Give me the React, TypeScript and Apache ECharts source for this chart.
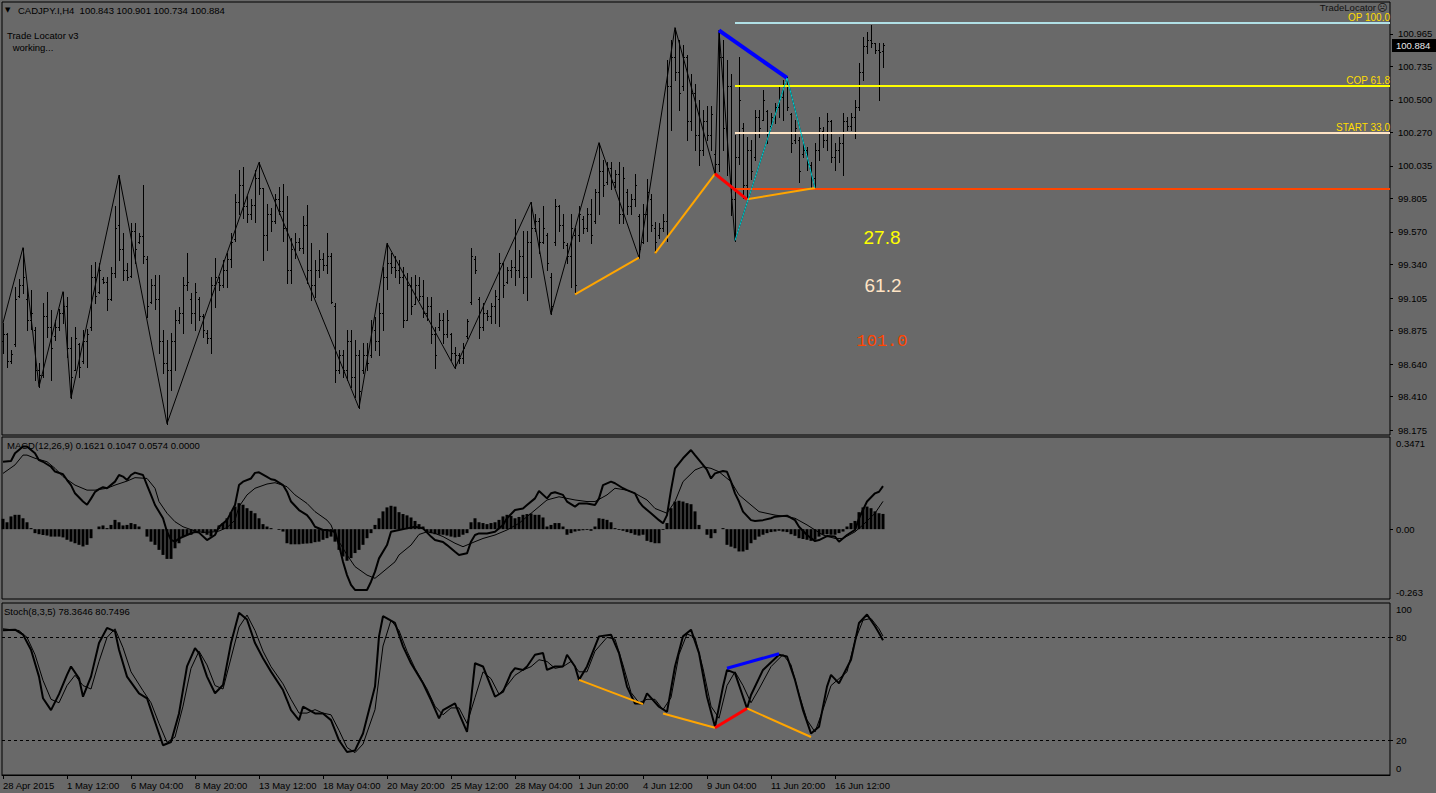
import React, { useEffect, useRef } from 'react';
import * as echarts from 'echarts';

// ---------- DATA ----------
// H4 bars, [open, high, low, close], bar index = position in array
const ohlc: number[][] = [
  [98.80, 98.93, 98.72, 98.85], [98.85, 98.86, 98.62, 98.66], [98.66, 98.74, 98.65, 98.71], [98.78, 99.18, 98.77, 99.10],
  [99.12, 99.24, 99.11, 99.20], [99.20, 99.46, 99.14, 99.25], [99.10, 99.18, 98.88, 98.95], [98.95, 99.16, 98.89, 99.00],
  [98.88, 98.90, 98.53, 98.60], [98.60, 98.65, 98.48, 98.56], [98.56, 99.07, 98.55, 98.98], [98.98, 99.15, 98.83, 98.90],
  [98.90, 99.02, 98.53, 98.75], [98.84, 98.95, 98.81, 98.90], [98.90, 99.03, 98.88, 99.00], [99.00, 99.15, 98.93, 99.05],
  [99.05, 99.11, 98.69, 98.75], [98.75, 98.83, 98.40, 98.55], [98.60, 98.90, 98.60, 98.82], [98.78, 98.79, 98.55, 98.62],
  [98.66, 98.88, 98.65, 98.80], [98.80, 98.89, 98.62, 98.85], [98.90, 99.34, 98.88, 99.25], [99.25, 99.36, 99.07, 99.12],
  [99.15, 99.35, 99.14, 99.30], [99.24, 99.25, 99.21, 99.22], [99.22, 99.25, 99.02, 99.10], [99.10, 99.32, 99.09, 99.28],
  [99.28, 99.75, 99.25, 99.60], [99.62, 99.97, 99.37, 99.45], [99.45, 99.56, 99.23, 99.30], [99.30, 99.35, 99.23, 99.25],
  [99.26, 99.63, 99.25, 99.58], [99.58, 99.63, 99.35, 99.45], [99.50, 99.56, 99.49, 99.54], [99.54, 99.90, 99.35, 99.40],
  [99.38, 99.40, 98.97, 99.05], [99.08, 99.24, 99.07, 99.20], [99.20, 99.27, 99.03, 99.10], [99.10, 99.27, 98.72, 98.80],
  [98.80, 98.88, 98.58, 98.65], [98.65, 98.81, 98.22, 98.60], [98.60, 98.86, 98.46, 98.80], [98.80, 99.02, 98.60, 98.95],
  [98.95, 99.04, 98.93, 99.00], [99.00, 99.25, 98.86, 99.20], [99.20, 99.42, 99.16, 99.22], [99.10, 99.14, 98.93, 99.00],
  [99.00, 99.21, 98.88, 99.15], [99.10, 99.11, 98.95, 98.98], [98.98, 98.99, 98.83, 98.88], [98.86, 98.88, 98.79, 98.82],
  [98.82, 99.25, 98.72, 99.20], [99.20, 99.39, 99.04, 99.25], [99.22, 99.25, 99.16, 99.20], [99.20, 99.37, 99.18, 99.30],
  [99.30, 99.42, 99.18, 99.38], [99.38, 99.56, 99.32, 99.50], [99.52, 99.84, 99.51, 99.78], [99.78, 100.01, 99.70, 99.90],
  [99.90, 100.03, 99.67, 99.75], [99.75, 99.82, 99.64, 99.70], [99.70, 99.80, 99.66, 99.76], [99.76, 100.01, 99.64, 99.95],
  [99.95, 100.06, 99.84, 99.88], [99.88, 99.88, 99.37, 99.55], [99.55, 99.77, 99.44, 99.70], [99.70, 99.74, 99.58, 99.65],
  [99.65, 99.84, 99.63, 99.80], [99.80, 99.89, 99.70, 99.72], [99.72, 99.91, 99.51, 99.60], [99.60, 99.82, 99.21, 99.30],
  [99.30, 99.53, 99.21, 99.45], [99.45, 99.56, 99.39, 99.50], [99.50, 99.53, 99.44, 99.46], [99.46, 99.68, 99.42, 99.62],
  [99.62, 99.76, 99.21, 99.30], [99.30, 99.49, 99.09, 99.20], [99.20, 99.37, 99.11, 99.30], [99.30, 99.44, 99.25, 99.38],
  [99.38, 99.42, 99.30, 99.34], [99.34, 99.56, 99.28, 99.40], [99.40, 99.42, 99.07, 99.08], [99.05, 99.07, 98.51, 98.60],
  [98.60, 98.74, 98.58, 98.70], [98.70, 98.74, 98.55, 98.60], [98.60, 98.88, 98.53, 98.80], [98.80, 98.88, 98.48, 98.55],
  [98.55, 98.81, 98.41, 98.70], [98.70, 98.74, 98.33, 98.45], [98.60, 98.79, 98.58, 98.70], [98.70, 98.79, 98.60, 98.65],
  [98.70, 98.95, 98.69, 98.90], [98.88, 98.97, 98.74, 98.80], [98.80, 99.07, 98.70, 99.00], [99.00, 99.32, 98.88, 99.25],
  [99.25, 99.49, 99.17, 99.35], [99.35, 99.42, 99.28, 99.32], [99.32, 99.40, 99.25, 99.30], [99.30, 99.37, 99.21, 99.25],
  [99.25, 99.32, 98.90, 98.95], [98.95, 99.28, 98.95, 99.20], [99.20, 99.25, 98.99, 99.05], [99.06, 99.27, 99.06, 99.20],
  [99.20, 99.25, 99.09, 99.12], [99.12, 99.23, 98.97, 99.00], [99.00, 99.11, 98.95, 99.05], [99.05, 99.11, 98.79, 98.85],
  [98.85, 98.90, 98.61, 98.70], [98.90, 99.00, 98.88, 98.95], [98.95, 99.00, 98.79, 98.85], [98.85, 99.02, 98.83, 98.95],
  [98.85, 98.86, 98.67, 98.72], [98.72, 98.76, 98.61, 98.70], [98.70, 98.72, 98.65, 98.68], [98.68, 98.79, 98.65, 98.75],
  [98.84, 98.96, 98.82, 98.94], [99.08, 99.46, 99.06, 99.40], [99.38, 99.40, 99.28, 99.30], [99.10, 99.11, 98.82, 98.90],
  [98.90, 99.07, 98.88, 99.00], [99.00, 99.02, 98.95, 98.98], [98.98, 99.07, 98.93, 99.05], [99.05, 99.16, 98.93, 99.12],
  [99.10, 99.42, 98.91, 99.35], [99.35, 99.35, 99.11, 99.20], [99.22, 99.32, 99.21, 99.30], [99.30, 99.37, 99.25, 99.32],
  [99.32, 99.66, 99.20, 99.30], [99.30, 99.44, 99.25, 99.40], [99.40, 99.58, 99.14, 99.25], [99.25, 99.58, 99.09, 99.50],
  [99.50, 99.78, 99.25, 99.60], [99.60, 99.70, 99.58, 99.65], [99.65, 99.67, 99.42, 99.50], [99.50, 99.75, 99.49, 99.60],
  [99.55, 99.56, 99.30, 99.35], [99.25, 99.28, 98.99, 99.05], [99.50, 99.80, 99.48, 99.75], [99.75, 99.76, 99.58, 99.62],
  [99.62, 99.70, 99.46, 99.50], [99.48, 99.49, 99.35, 99.40], [99.40, 99.70, 99.18, 99.60], [99.55, 99.60, 99.13, 99.20],
  [99.55, 99.75, 99.51, 99.70], [99.66, 99.68, 99.56, 99.60], [99.60, 99.74, 99.58, 99.70], [99.70, 99.80, 99.49, 99.55],
  [99.65, 99.87, 99.63, 99.85], [99.85, 100.20, 99.70, 100.00], [100.00, 100.08, 99.82, 99.90], [99.92, 100.06, 99.91, 100.02],
  [100.02, 100.06, 99.87, 99.92], [99.92, 100.01, 99.89, 99.98], [99.98, 100.06, 99.63, 99.70], [99.70, 100.03, 99.63, 99.95],
  [99.85, 99.87, 99.70, 99.75], [99.75, 99.84, 99.70, 99.80], [99.80, 99.98, 99.75, 99.90], [99.68, 99.70, 99.39, 99.45],
  [99.50, 99.77, 99.49, 99.70], [99.70, 99.94, 99.51, 99.85], [99.80, 99.84, 99.58, 99.62], [99.60, 99.64, 99.42, 99.50],
  [99.55, 99.63, 99.53, 99.60], [99.60, 99.70, 99.58, 99.65], [99.65, 100.78, 99.51, 100.60], [100.60, 100.92, 100.29, 100.80],
  [100.80, 101.01, 100.64, 100.70], [100.70, 100.92, 100.43, 100.55], [100.60, 100.89, 100.57, 100.80], [100.80, 100.82, 100.22, 100.35],
  [100.35, 100.68, 100.29, 100.55], [100.55, 100.61, 100.15, 100.25], [100.25, 100.50, 100.04, 100.15], [100.15, 100.43, 100.11, 100.35],
  [100.35, 100.46, 100.22, 100.25], [100.25, 100.46, 100.15, 100.40], [100.12, 100.15, 99.98, 100.05], [100.05, 100.99, 100.00, 100.80],
  [100.80, 100.92, 100.15, 100.30], [100.30, 100.78, 99.97, 100.60], [100.60, 100.68, 99.69, 99.80], [99.80, 100.25, 99.51, 100.10],
  [100.10, 100.80, 100.05, 100.50], [100.30, 100.34, 99.81, 99.90], [99.90, 100.24, 99.80, 100.15], [100.15, 100.22, 99.94, 100.00],
  [100.10, 100.43, 100.08, 100.38], [100.38, 100.43, 100.24, 100.30], [100.36, 100.57, 100.36, 100.50], [100.42, 100.43, 100.20, 100.25],
  [100.32, 100.41, 100.31, 100.38], [100.38, 100.48, 100.34, 100.45], [100.45, 100.59, 100.38, 100.52], [100.52, 100.64, 100.36, 100.60],
  [100.60, 100.66, 100.43, 100.45], [100.40, 100.41, 100.13, 100.20], [100.22, 100.36, 100.20, 100.30], [100.22, 100.24, 99.92, 100.00],
  [100.12, 100.20, 100.10, 100.15], [100.15, 100.17, 100.01, 100.05], [100.04, 100.06, 99.89, 99.95], [99.95, 100.20, 99.88, 100.15],
  [100.15, 100.38, 100.08, 100.30], [100.28, 100.31, 100.17, 100.22], [100.22, 100.41, 100.15, 100.35], [100.35, 100.36, 100.06, 100.10],
  [100.10, 100.20, 100.01, 100.15], [100.15, 100.24, 100.06, 100.20], [100.20, 100.41, 99.97, 100.35], [100.35, 100.38, 100.29, 100.32],
  [100.32, 100.41, 100.29, 100.38], [100.38, 100.50, 100.23, 100.45], [100.45, 100.76, 100.43, 100.70], [100.70, 100.94, 100.64, 100.88],
  [100.88, 100.98, 100.83, 100.92], [100.92, 101.03, 100.87, 100.90], [100.90, 100.90, 100.83, 100.85], [100.85, 100.90, 100.50, 100.84],
  [100.843, 100.901, 100.734, 100.884],
];

// ZigZag swing points [bar, price]
const zigzag: number[][] = [
  [0, 98.93], [5, 99.46], [9, 98.48], [15, 99.15], [17, 98.40], [29, 99.97], [41, 98.22], [64, 100.06],
  [89, 98.33], [96, 99.49], [113, 98.61], [132, 99.78], [137, 98.99], [149, 100.20], [159, 99.39],
  [168, 101.01], [178, 99.98], [179, 100.99], [183, 99.51], [196, 100.655], [203, 99.88],
];

// Trade Locator pattern legs (price panel)
const orangeLegs: number[][][] = [
  [[143, 99.13], [159, 99.39]],
  [[163, 99.42], [178, 99.98]],
  [[186, 99.80], [203, 99.88]],
];
const redLeg: number[][] = [[178, 99.98], [186, 99.80]];
const blueLeg: number[][] = [[179, 100.99], [196, 100.655]];
const cyanLeg: number[][] = [[183, 99.51], [196, 100.655], [203, 99.88]];

// Trade Locator levels
const levelStart = 183;
const levelNames = ['OP 100.0', 'COP 61.8', 'START 33.0', ''];
const levelPrices = [101.043, 100.599, 100.268, 99.873];
const levelColors = ['#b0e0e6', '#ffff00', '#ffe4c4', '#ff4500'];
const ratioTexts = ['27.8', '61.2', '101.0'];

// MACD(12,26,9): histogram per bar, lines as [bar, value]
const macdHist: number[] = [
  0.039, 0.026, 0.048, 0.054, 0.054, 0.041, 0.026, 0.004,
  -0.015, -0.019, -0.022, -0.024, -0.028, -0.028, -0.028, -0.031, -0.040, -0.047, -0.053, -0.059, -0.065, -0.059, -0.034,
  0.000, 0.010, 0.014, 0.004, 0.016, 0.035, 0.026, 0.014, 0.016, 0.023, 0.019, 0.010, 0.000,
  -0.028, -0.047, -0.059, -0.078, -0.097, -0.112, -0.112, -0.072, -0.053, -0.028,
  -0.021, -0.021, -0.015, -0.009, -0.015, -0.021, -0.028, -0.009,
  0.014, 0.023, 0.041, 0.064, 0.085, 0.098, 0.092, 0.079, 0.069, 0.060, 0.041, 0.019,
  0.010, 0.004, 0.000, -0.003, -0.009,
  -0.053, -0.057, -0.057, -0.057, -0.055, -0.054, -0.053, -0.049, -0.047, -0.040, -0.034, -0.028,
  -0.047, -0.078, -0.103, -0.119, -0.109, -0.090, -0.078, -0.059, -0.034, -0.015,
  0.016, 0.041, 0.067, 0.082, 0.088, 0.085, 0.064, 0.057, 0.052, 0.044, 0.031, 0.019, 0.010,
  -0.011, -0.015, -0.019, -0.021,
  -0.021, -0.024, -0.028, -0.031, -0.029, -0.021, -0.015,
  0.026, 0.041, 0.026, 0.023, 0.019, 0.023, 0.026, 0.035,
  0.048, 0.054, 0.050, 0.041, 0.046, 0.054, 0.057, 0.059, 0.054,
  0.054, 0.044, 0.010, 0.016, 0.023, 0.023, 0.010,
  -0.021, -0.015, -0.009, -0.006, -0.004, -0.003, -0.006,
  0.010, 0.041, 0.039, 0.035, 0.026,
  0.004, -0.003, -0.006, -0.011, -0.015, -0.021, -0.024, -0.021,
  -0.044, -0.049, -0.053, -0.053, -0.003,
  0.023, 0.079, 0.104, 0.107, 0.104, 0.098, 0.094, 0.067, 0.016, 0.000,
  -0.021, -0.034, -0.015, 0.000, 0.004,
  -0.059, -0.066, -0.072, -0.084, -0.084, -0.078,
  -0.053, -0.040, -0.028, -0.021,
  -0.015, -0.011, -0.009, -0.006, -0.009,
  -0.011, -0.019, -0.025, -0.034, -0.037, -0.040,
  -0.044, -0.040, -0.028, -0.021, -0.019,
  -0.021, -0.021, -0.015,
  -0.009, 0.010, 0.023,
  0.031, 0.064, 0.082,
  0.085, 0.079, 0.067, 0.060, 0.0574,
];

const macdMain: number[][] = [
  [0, 0.254], [2, 0.257], [3, 0.286], [5, 0.311], [6, 0.311], [8, 0.286], [9, 0.260], [10, 0.254], [12, 0.235], [13, 0.217],
  [15, 0.207], [16, 0.185], [17, 0.166], [18, 0.135], [20, 0.104], [21, 0.092], [22, 0.115], [23, 0.140], [24, 0.151], [25, 0.158],
  [26, 0.154], [28, 0.179], [29, 0.204], [30, 0.198], [31, 0.185], [32, 0.204], [33, 0.213], [35, 0.204], [36, 0.166], [37, 0.129],
  [38, 0.091], [40, 0.041], [41, -0.010], [42, -0.040], [43, -0.047], [44, -0.035], [46, -0.022], [48, -0.010], [49, -0.013], [51, -0.041],
  [53, -0.022], [54, 0.009], [56, 0.034], [58, 0.091], [59, 0.166], [60, 0.179], [62, 0.191], [63, 0.212], [64, 0.214], [66, 0.197],
  [67, 0.188], [68, 0.185], [70, 0.166], [71, 0.141], [72, 0.104], [74, 0.072], [76, 0.053], [77, 0.034], [78, 0.009], [80, -0.003],
  [81, -0.003], [83, -0.010], [84, -0.060], [85, -0.123], [86, -0.173], [87, -0.210], [88, -0.229], [91, -0.229], [92, -0.198], [93, -0.160],
  [94, -0.110], [96, -0.060], [97, -0.010], [99, -0.003], [101, 0.003], [103, 0.009], [105, 0.003], [107, -0.028], [108, -0.041], [110, -0.048],
  [111, -0.060], [113, -0.085], [114, -0.097], [116, -0.091], [117, -0.047], [118, -0.022], [119, -0.016], [121, -0.016], [123, -0.010], [125, 0.016],
  [126, 0.041], [128, 0.072], [130, 0.078], [131, 0.091], [133, 0.116], [134, 0.144], [136, 0.116], [137, 0.135], [138, 0.139], [140, 0.129],
  [141, 0.104], [143, 0.085], [144, 0.097], [146, 0.097], [148, 0.091], [149, 0.116], [150, 0.166], [152, 0.179], [153, 0.173], [155, 0.154],
  [156, 0.147], [158, 0.135], [159, 0.104], [160, 0.085], [162, 0.060], [164, 0.034], [165, 0.022], [166, 0.053], [167, 0.147], [168, 0.229],
  [170, 0.267], [172, 0.298], [173, 0.279], [175, 0.242], [176, 0.223], [177, 0.191], [178, 0.210], [180, 0.219], [181, 0.216], [182, 0.179],
  [183, 0.135], [184, 0.104], [185, 0.066], [187, 0.034], [188, 0.031], [190, 0.034], [192, 0.041], [193, 0.047], [196, 0.051], [198, 0.034],
  [199, 0.009], [201, -0.022], [203, -0.045], [204, -0.041], [206, -0.026], [208, -0.028], [209, -0.047], [211, -0.022], [213, -0.003], [214, 0.041],
  [216, 0.104], [218, 0.135], [219, 0.141], [220, 0.1621],
];

const macdSignal: number[][] = [
  [0, 0.210], [3, 0.242], [5, 0.279], [6, 0.279], [8, 0.267], [11, 0.254], [13, 0.229], [15, 0.198], [18, 0.166], [21, 0.147],
  [23, 0.147], [26, 0.154], [28, 0.166], [31, 0.181], [33, 0.194], [36, 0.191], [38, 0.154], [39, 0.104], [41, 0.060], [43, 0.028],
  [45, 0.009], [48, -0.007], [50, -0.012], [53, -0.010], [54, -0.007], [56, 0.006], [58, 0.034], [59, 0.085], [61, 0.129], [63, 0.154],
  [66, 0.170], [68, 0.175], [71, 0.160], [73, 0.129], [76, 0.097], [78, 0.066], [81, 0.034], [82, 0.016], [83, -0.022], [86, -0.097],
  [88, -0.141], [91, -0.173], [93, -0.185], [94, -0.173], [96, -0.148], [98, -0.123], [99, -0.097], [102, -0.060], [104, -0.020], [106, -0.010],
  [108, -0.016], [110, -0.028], [113, -0.053], [115, -0.066], [118, -0.047], [120, -0.035], [123, -0.022], [126, -0.003], [129, 0.022], [133, 0.072],
  [136, 0.110], [139, 0.122], [143, 0.110], [146, 0.104], [148, 0.104], [151, 0.129], [153, 0.154], [156, 0.147], [158, 0.135], [161, 0.110],
  [163, 0.078], [166, 0.060], [168, 0.104], [170, 0.179], [173, 0.223], [175, 0.235], [177, 0.229], [179, 0.216], [182, 0.179], [184, 0.129],
  [187, 0.091], [189, 0.066], [193, 0.053], [196, 0.047], [198, 0.041], [201, 0.016], [203, -0.003], [205, -0.022], [208, -0.035], [210, -0.035],
  [213, -0.010], [215, 0.016], [218, 0.060], [220, 0.1047],
];

// Stochastic(8,3,5): [bar, value]
const stochMain: number[][] = [
  [0, 84.1], [3, 84.5], [5, 81.6], [7, 72.8], [9, 57.2], [10, 44.6], [12, 37.7], [14, 47], [16, 58.2], [17, 63.1],
  [19, 56.2], [20, 45.5], [22, 57.2], [24, 76.7], [26, 85.5], [28, 83.5], [29, 72.8], [31, 57.2], [34, 47.5], [36, 44.6],
  [37, 37.7], [39, 24.1], [40, 17.3], [42, 19.2], [44, 35.8], [46, 63.1], [48, 73.8], [49, 70.9], [51, 57.2], [53, 47.5],
  [55, 52.3], [57, 76.7], [59, 94.3], [61, 90.4], [63, 76.7], [65, 67.9], [67, 60.1], [70, 49.4], [71, 43.6], [72, 37.7],
  [74, 31.9], [75, 39.7], [78, 35.8], [80, 35.8], [82, 31.9], [84, 20.2], [86, 13.4], [88, 14.3], [90, 24.1], [93, 51.4],
  [94, 80.6], [95, 92.3], [98, 88.4], [100, 74.8], [102, 65.0], [105, 53.3], [107, 43.6], [109, 32.9], [110, 37.7], [113, 41.6],
  [114, 35.8], [116, 25.1], [117, 43.6], [118, 65.0], [120, 63.1], [123, 45.5], [125, 48.4], [127, 59.2], [128, 62.1], [130, 61.1],
  [131, 63.1], [133, 69.9], [135, 70.9], [136, 61.1], [138, 63.1], [140, 63.1], [141, 69.9], [143, 63.1], [144, 55.3], [146, 63.1],
  [149, 80.6], [152, 81.6], [154, 70.9], [156, 51.4], [158, 41.6], [160, 41.6], [161, 47.5], [164, 39.7], [166, 36.7], [168, 63.1],
  [170, 80.6], [172, 84.5], [174, 70.9], [176, 45.5], [178, 28.0], [180, 51.4], [181, 61.1], [183, 59.2], [185, 45.5], [186, 38.7],
  [187, 46.5], [190, 61.1], [194, 69.9], [196, 68.9], [198, 55.3], [200, 37.7], [202, 24.1], [204, 28.0], [206, 51.4], [207, 58.2],
  [209, 53.3], [212, 67.0], [214, 88.4], [216, 93.3], [218, 86.5], [219, 82.6], [220, 78.3646],
];

const stochSignal: number[][] = [
  [0, 85], [4, 84], [6, 80], [8, 70], [10, 55], [12, 44], [14, 42], [16, 52], [18, 58], [20, 52],
  [22, 50], [24, 66], [26, 80], [28, 85], [30, 74], [32, 60], [35, 49], [37, 42], [39, 30], [41, 19],
  [43, 22], [45, 40], [47, 62], [49, 72], [51, 64], [53, 52], [55, 50], [57, 68], [59, 86], [61, 93],
  [63, 84], [65, 72], [67, 63], [70, 53], [72, 44], [74, 36], [76, 36], [78, 38], [80, 36], [82, 35],
  [84, 26], [86, 16], [88, 13], [90, 18], [93, 38], [95, 75], [97, 90], [99, 84], [101, 72], [103, 62],
  [106, 50], [108, 40], [110, 35], [112, 39], [114, 39], [116, 30], [118, 45], [120, 60], [122, 56], [124, 47],
  [126, 52], [128, 58], [130, 61], [132, 63], [134, 67], [136, 66], [138, 62], [140, 63], [142, 66], [144, 60],
  [146, 60], [148, 72], [151, 80], [153, 79], [155, 64], [157, 48], [159, 42], [161, 44], [163, 44], [165, 38],
  [167, 45], [169, 70], [171, 82], [173, 80], [175, 62], [177, 40], [179, 33], [181, 52], [183, 60], [185, 52],
  [187, 42], [189, 50], [192, 63], [195, 70], [197, 64], [199, 47], [201, 32], [203, 25], [205, 38], [207, 52],
  [209, 56], [211, 60], [213, 78], [215, 90], [217, 91], [219, 85], [220, 80.7496],
];

const stochOrangeLegs: number[][][] = [
  [[144, 55.3], [160, 41.2]],
  [[165, 35.8], [178, 27.5]],
  [[186, 38.7], [202, 22.1]],
];
const stochRedLeg: number[][] = [[178, 27.5], [186, 38.7]];
const stochBlueLeg: number[][] = [[181, 62.1], [194, 70.5]];

// Axis ticks / labels
const priceTicks = [98.175, 98.41, 98.64, 98.875, 99.105, 99.34, 99.57, 99.805, 100.035, 100.27, 100.5, 100.735, 100.965];
const timeTickBars = [0, 16, 32, 48, 64, 80, 96, 112, 128, 144, 160, 176, 192, 208];
const timeTickLabels = ['28 Apr 2015', '1 May 12:00', '6 May 04:00', '8 May 20:00', '13 May 12:00', '18 May 04:00', '20 May 20:00',
  '25 May 12:00', '28 May 04:00', '1 Jun 20:00', '4 Jun 12:00', '9 Jun 04:00', '11 Jun 20:00', '16 Jun 12:00'];
const macdLabelPos = [0.3211, 0, -0.237];
const macdTickLabels = ['0.3471', '0.00', '-0.263'];
const stochLabelPos = [96.5, 80, 20, 3.5];
const stochTickLabels = ['100', '80', '20', '0'];
const lastPrice = 100.884;

// ---------- CHART ----------
const FONT = 'Liberation Sans';
const BG = '#696969';
const X_MIN = -0.25;
const X_MAX = 346.75;

function lookup(pos: number[], labels: string[], v: number) {
  for (let k = 0; k < pos.length; k++) if (Math.abs(pos[k] - v) < 1e-6) return labels[k];
  return '';
}

function buildOption(): any {
  const hiddenX = (g: number) => ({
    gridIndex: g, type: 'value', min: X_MIN, max: X_MAX, show: false,
    splitLine: { show: false }, axisLine: { show: false, onZero: false },
  });
  const seg = (data: number[][], color: string, width: number, xi: number, yi: number, z = 5) => ({
    type: 'line', xAxisIndex: xi, yAxisIndex: yi, data, symbol: 'none', silent: true, z,
    lineStyle: { color, width }, animation: false,
  });
  const txt = (x: number, y: number, text: string, extra: any = {}) => ({
    type: 'text', x, y, silent: true, z: 100,
    style: { text, fill: '#000', font: `9.5px "${FONT}"`, textAlign: 'left', textVerticalAlign: 'middle', ...extra },
  });
  const yLabel = { color: '#000', fontSize: 9.5, fontFamily: FONT };

  return {
    animation: false,
    backgroundColor: BG,
    grid: [
      { left: 2, top: 2, width: 1388, height: 433, show: true, borderColor: '#000', borderWidth: 1, backgroundColor: 'transparent' },
      { left: 2, top: 437, width: 1388, height: 162, show: true, borderColor: '#000', borderWidth: 1, backgroundColor: 'transparent' },
      { left: 2, top: 603, width: 1388, height: 172, show: true, borderColor: '#000', borderWidth: 1, backgroundColor: 'transparent' },
    ],
    xAxis: [
      hiddenX(0),
      hiddenX(1),
      {
        gridIndex: 2, type: 'value', min: X_MIN, max: X_MAX,
        splitLine: { show: false },
        axisLine: { show: true, onZero: false, lineStyle: { color: '#000' } },
        axisTick: { show: true, customValues: timeTickBars, length: 4, lineStyle: { color: '#000' } },
        axisLabel: {
          show: true, customValues: timeTickBars, color: '#000', fontSize: 9.5, fontFamily: FONT, align: 'left', margin: 5,
          formatter: (v: number) => lookup(timeTickBars, timeTickLabels, v),
        },
      },
    ],
    yAxis: [
      {
        gridIndex: 0, type: 'value', position: 'right', min: 98.14, max: 101.19,
        splitLine: { show: false }, axisLine: { show: false, onZero: false },
        axisTick: { show: true, customValues: priceTicks, length: 3, lineStyle: { color: '#000' } },
        axisLabel: { customValues: priceTicks, ...yLabel, margin: 8, formatter: (v: number) => v.toFixed(3) },
      },
      {
        gridIndex: 1, type: 'value', position: 'right', min: -0.263, max: 0.3471,
        splitLine: { show: false }, axisLine: { show: false, onZero: false },
        axisTick: { show: true, customValues: [0], length: 3, lineStyle: { color: '#000' } },
        axisLabel: { customValues: macdLabelPos, ...yLabel, margin: 6,
          formatter: (v: number) => lookup(macdLabelPos, macdTickLabels, v) },
      },
      {
        gridIndex: 2, type: 'value', position: 'right', min: 0, max: 100,
        splitLine: { show: false }, axisLine: { show: false, onZero: false },
        axisTick: { show: true, customValues: [80, 20], length: 3, lineStyle: { color: '#000' } },
        axisLabel: { customValues: stochLabelPos, ...yLabel, margin: 6,
          formatter: (v: number) => lookup(stochLabelPos, stochTickLabels, v) },
      },
    ],
    graphic: [
      txt(5, 10, '▼', { font: `7px "DejaVu Sans"` }),
      txt(18, 10, 'CADJPY.I,H4  100.843 100.901 100.734 100.884'),
      txt(7, 35, 'Trade Locator v3'),
      txt(10, 47, ' working...'),
      txt(1376, 7, 'TradeLocator', { textAlign: 'right', fill: '#111' }),
      txt(1377, 7, '☹', { font: `10px "DejaVu Sans"`, fill: '#111' }),
      txt(7, 445, 'MACD(12,26,9) 0.1621 0.1047 0.0574 0.0000'),
      txt(4, 611, 'Stoch(8,3,5) 78.3646 80.7496'),
      txt(882, 237, ratioTexts[0], { font: `19px "${FONT}"`, fill: '#ffff00', textAlign: 'center' }),
      txt(883, 285, ratioTexts[1], { font: `19px "${FONT}"`, fill: '#ffe4c4', textAlign: 'center' }),
      txt(882, 341, ratioTexts[2], { font: `17px "Liberation Mono"`, fill: '#ff4500', textAlign: 'center' }),
    ],
    series: [
      {
        type: 'custom', name: 'bars', xAxisIndex: 0, yAxisIndex: 0, clip: true, silent: true, z: 2,
        data: ohlc.map((b, i) => [i, b[0], b[1], b[2], b[3]]),
        encode: { x: 0, y: [1, 2, 3, 4] },
        renderItem: (_p: any, api: any) => {
          const i = api.value(0);
          const o = api.coord([i, api.value(1)]);
          const h = api.coord([i, api.value(2)]);
          const l = api.coord([i, api.value(3)]);
          const c = api.coord([i, api.value(4)]);
          const x = Math.round(o[0]) + 0.5;
          const yo = Math.round(o[1]) + 0.5;
          const yc = Math.round(c[1]) + 0.5;
          const st = { stroke: '#000', lineWidth: 1 };
          return {
            type: 'group',
            children: [
              { type: 'line', shape: { x1: x, y1: Math.round(h[1]), x2: x, y2: Math.round(l[1]) + 1 }, style: st },
              { type: 'line', shape: { x1: x - 1.5, y1: yo, x2: x, y2: yo }, style: st },
              { type: 'line', shape: { x1: x, y1: yc, x2: x + 1.5, y2: yc }, style: st },
            ],
          };
        },
      },
      {
        ...seg(zigzag, '#000', 1, 0, 0, 3),
        markLine: {
          silent: true, symbol: ['none', 'none'], animation: false,
          data: levelPrices.map((p, k) => [
            {
              coord: [levelStart, p],
              lineStyle: { color: levelColors[k], width: 2, type: 'solid' },
              label: {
                show: levelNames[k] !== '', formatter: levelNames[k], position: 'insideEndTop',
                color: '#ffdd00', fontSize: 10, fontFamily: FONT, distance: 0,
              },
            },
            { coord: [X_MAX, p] },
          ]),
        },
      },
      ...orangeLegs.map((d) => seg(d, '#ffa500', 2, 0, 0, 6)),
      seg(redLeg, '#ff0000', 3, 0, 0, 7),
      seg(blueLeg, '#0000ff', 4, 0, 0, 7),
      seg(cyanLeg, '#00ced1', 1, 0, 0, 7),
      {
        type: 'bar', xAxisIndex: 1, yAxisIndex: 1, barWidth: 3, silent: true,
        data: macdHist.map((v, i) => [i, v]), itemStyle: { color: '#000' }, z: 2,
      },
      seg(macdSignal, '#000', 1, 1, 1, 3),
      seg(macdMain, '#000', 2, 1, 1, 4),
      {
        ...seg(stochSignal, '#000', 1, 2, 2, 3),
        markLine: {
          silent: true, symbol: ['none', 'none'], animation: false,
          lineStyle: { color: '#000', width: 1, type: [3, 3] },
          label: { show: false },
          data: [{ yAxis: 80 }, { yAxis: 20 }],
        },
      },
      seg(stochMain, '#000', 2, 2, 2, 4),
      ...stochOrangeLegs.map((d) => seg(d, '#ffa500', 2, 2, 2, 6)),
      seg(stochRedLeg, '#ff0000', 3, 2, 2, 7),
      seg(stochBlueLeg, '#0000ff', 3, 2, 2, 7),
    ],
  };
}

export default function App() {
  const ref = useRef<HTMLDivElement>(null);
  useEffect(() => {
    document.body.style.margin = '0';
    const chart = echarts.init(ref.current as HTMLDivElement, null, { renderer: 'svg' });
    const option = buildOption();
    chart.setOption(option);
    // current-price tag on the right price scale, placed through the axis scale
    const py = chart.convertToPixel({ yAxisIndex: 0 }, lastPrice) as number;
    if (typeof py === 'number' && isFinite(py)) {
      chart.setOption({
        graphic: [
          ...option.graphic,
          {
            type: 'group', z: 110, silent: true,
            children: [
              { type: 'rect', shape: { x: 1392, y: Math.round(py) - 6, width: 44, height: 13 }, style: { fill: '#000' } },
              {
                type: 'text', x: 1396, y: Math.round(py) + 0.5,
                style: { text: lastPrice.toFixed(3), fill: '#e8e8e8', font: `9.5px "${FONT}"`, textAlign: 'left', textVerticalAlign: 'middle' },
              },
            ],
          },
        ],
      });
    }
    return () => chart.dispose();
  }, []);
  return <div ref={ref} style={{ width: 1436, height: 793, background: BG }} />;
}
